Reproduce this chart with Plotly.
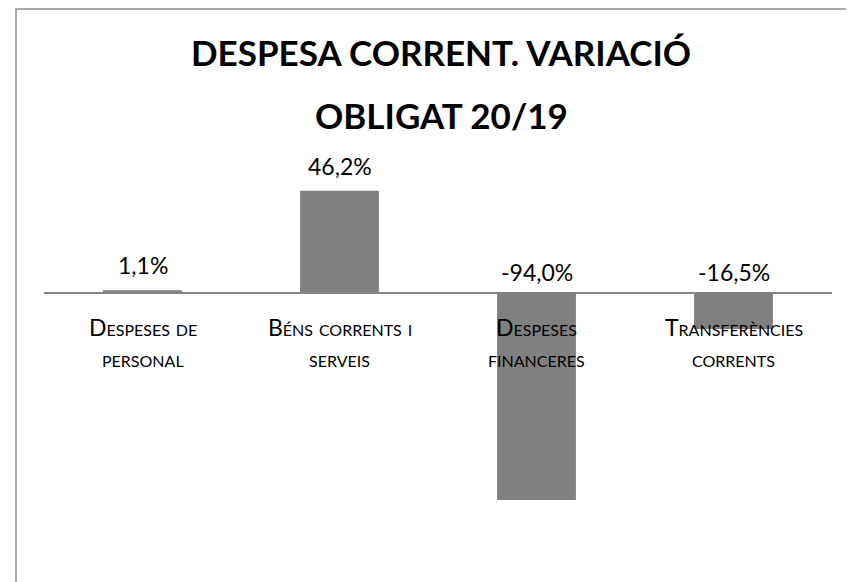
import plotly.graph_objects as go

categories = ["Despeses de<br>personal", "Béns corrents i<br>serveis", "Despeses<br>financeres", "Transferències<br>corrents"]
values = [1.1, 46.2, -94.0, -16.5]
title_lines = ["DESPESA CORRENT. VARIACIÓ", "OBLIGAT 20/19"]

FONT = "Lato"
BAR = "#808080"
OFF = 8  # page body margin of the html output

W, H = 854, 582
L, R = 44 - OFF, 832 - OFF
T, B = 150 - OFF, 550 - OFF
ZERO = 292.7 - OFF
PX = 2.205  # px per percentage point

fig = go.Figure(go.Bar(x=list(range(len(categories))), y=values, marker=dict(color=BAR, line=dict(width=0)),
                       hoverinfo="skip"))

ann = []
for i, v in enumerate(values):
    txt = f"{v:.1f}".replace(".", ",") + "%"
    ann.append(dict(x=i, y=max(v, 0), xref="x", yref="y", text=txt, showarrow=False,
                    yanchor="middle", yshift=25 if v >= 0 else 21, font=dict(family=FONT, size=23, color="#000")))
    for j, line in enumerate(categories[i].split("<br>")):
        ann.append(dict(x=i, y=0, xref="x", yref="y", text=line, showarrow=False,
                        yanchor="middle", yshift=-34 - 31 * j,
                        font=dict(family=FONT, size=23, color="#000", variant="small-caps")))

pw, ph = R - L, B - T
for line, yc in zip(title_lines, [52, 115]):
    ann.append(dict(x=(441 - OFF - L) / pw, y=1 - ((yc - OFF) - T) / ph, xref="paper", yref="paper", text=line,
                    showarrow=False, xanchor="center", yanchor="middle",
                    font=dict(family=FONT, size=35, color="#000", weight="bold")))

fig.update_layout(
    width=W, height=H,
    margin=dict(l=L, r=W - R, t=T, b=H - B),
    paper_bgcolor="white", plot_bgcolor="white",
    showlegend=False, bargap=0.6,
    xaxis=dict(range=[-0.5, 3.5], showgrid=False, zeroline=False, showticklabels=False, showline=False),
    yaxis=dict(range=[-(B - ZERO) / PX, (ZERO - T) / PX], showgrid=False, zeroline=True,
               zerolinecolor="#868686", zerolinewidth=2, showticklabels=False, showline=False),
    annotations=ann,
    shapes=[dict(type="rect", xref="paper", yref="paper",
                 x0=(16 - OFF - L) / pw, x1=1.2,
                 y0=-0.3, y1=1 + (T - (9 - OFF)) / ph, line=dict(color="#8c8c8c", width=1.5), layer="below")],
)
fig.write_html("out.html")
